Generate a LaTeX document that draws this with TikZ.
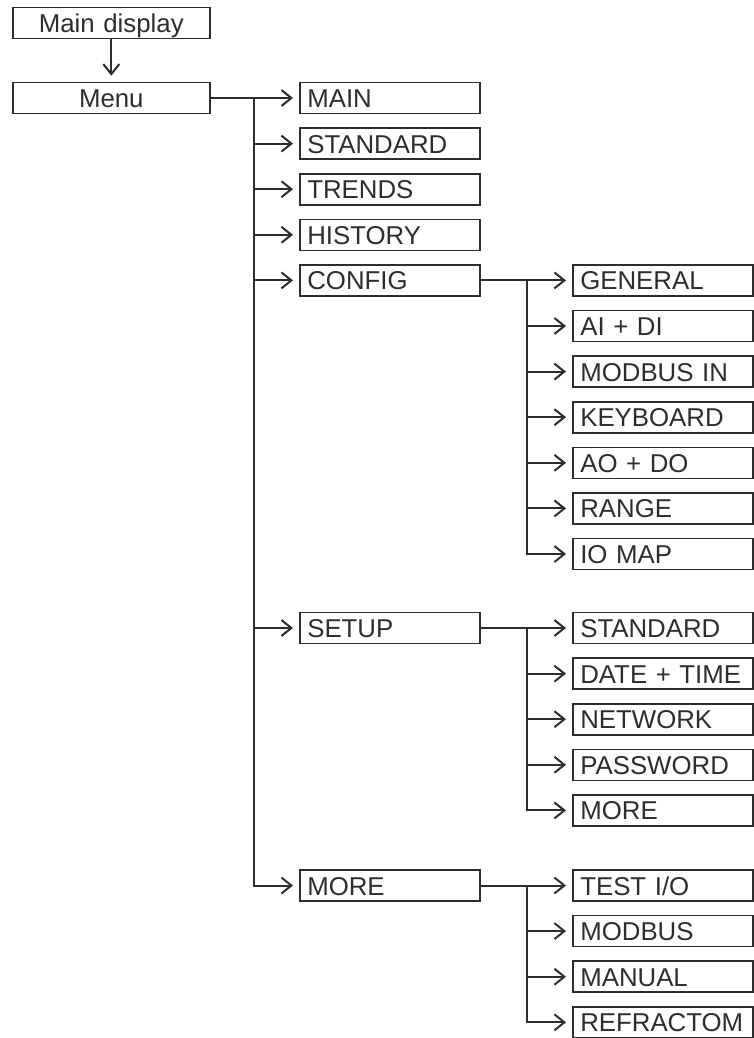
\documentclass[tikz,border=0pt]{standalone}
\usepackage{fontspec}
\setmainfont{Liberation Sans}
\usetikzlibrary{arrows.meta,positioning}
\definecolor{inkgray}{RGB}{45,45,45}

\begin{document}
\begin{tikzpicture}[x=0.5pt, y=-0.5pt,
      menubox/.style={rectangle, draw=inkgray, line width=0.8pt,
                      minimum height=15.5pt, text width=82.5pt,
                      inner xsep=3.75pt, inner ysep=0pt, align=left,
                      anchor=west, text=inkgray, text height=9.5pt,
                      text depth=0pt, font=\fontsize{12.9}{15}\selectfont},
      topbox/.style={menubox, text width=91pt, align=center},
      arrow/.style={-{Straight Barb[length=5pt,width=8pt]},
                    line width=1pt, draw=inkgray, shorten >=3pt},
    ]
      \useasboundingbox (0,0) rectangle (754,1038);
      %% Entry screens
      \node[topbox] (disp) at (12,23) {Main display};
      \node[topbox] (menu) at (12,98) {Menu};
      \draw[arrow] (disp.south) -- (menu.north);
      %% First menu level
      \foreach \nm/\txt/\yy in {main/MAIN/98, std/STANDARD/143.6,
                                trd/TRENDS/189.2, hist/HISTORY/234.8,
                                cfg/CONFIG/280.4, setup/SETUP/628,
                                more/MORE/885.5}{
        \node[menubox] (\nm) at (299,\yy) {\txt};
      }
      \coordinate (menutrunk) at (254,98);
      \draw[arrow] (menu.east) -- (main.west);
      \foreach \nm in {std,trd,hist,cfg,setup,more}{
        \draw[arrow] (menutrunk) |- (\nm.west);
      }
      %% CONFIG submenu
      \foreach \i/\txt in {0/GENERAL, 1/AI + DI, 2/MODBUS IN, 3/KEYBOARD,
                           4/AO + DO, 5/RANGE, 6/IO MAP}{
        \pgfmathsetmacro{\ypos}{280.4 + \i*45.6}
        \node[menubox] (cfg\i) at (572,\ypos) {\txt};
      }
      \coordinate (cfgtrunk) at (527,280.4);
      \draw[arrow] (cfg.east) -- (cfg0.west);
      \foreach \i in {1,...,6}{
        \draw[arrow] (cfgtrunk) |- (cfg\i.west);
      }
      %% SETUP submenu
      \foreach \i/\txt in {0/STANDARD, 1/DATE + TIME, 2/NETWORK,
                           3/PASSWORD, 4/MORE}{
        \pgfmathsetmacro{\ypos}{628 + \i*45.6}
        \node[menubox] (set\i) at (572,\ypos) {\txt};
      }
      \coordinate (settrunk) at (527,628);
      \draw[arrow] (setup.east) -- (set0.west);
      \foreach \i in {1,...,4}{
        \draw[arrow] (settrunk) |- (set\i.west);
      }
      %% MORE submenu
      \foreach \i/\txt in {0/{TEST I/O}, 1/MODBUS, 2/MANUAL, 3/REFRACTOM}{
        \pgfmathsetmacro{\ypos}{885.5 + \i*45.6}
        \node[menubox] (more\i) at (572,\ypos) {\txt};
      }
      \coordinate (moretrunk) at (527,885.5);
      \draw[arrow] (more.east) -- (more0.west);
      \foreach \i in {1,...,3}{
        \draw[arrow] (moretrunk) |- (more\i.west);
      }
    \end{tikzpicture}
\end{document}
